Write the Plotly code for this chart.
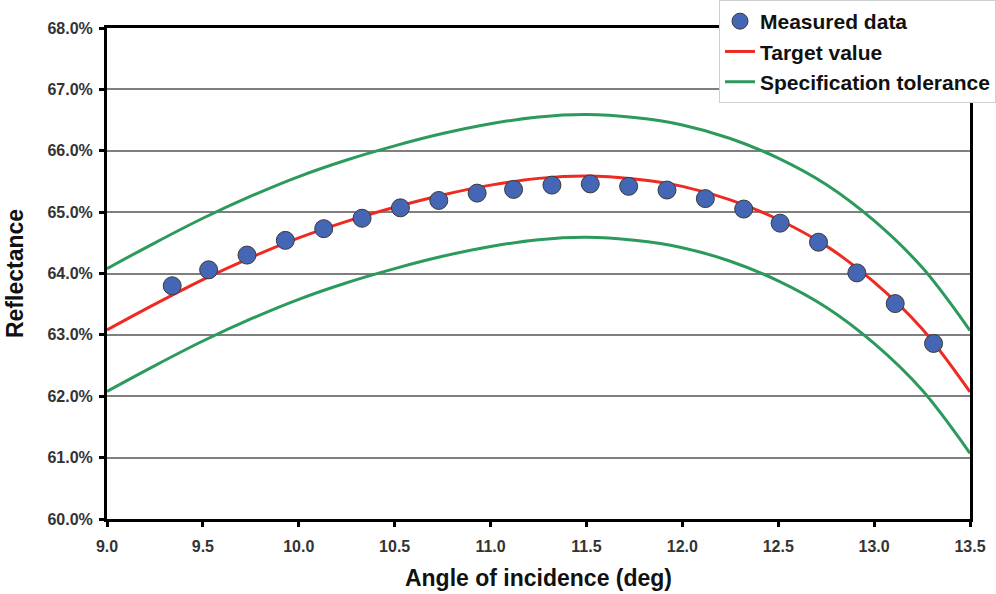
import plotly.graph_objects as go

# Measured data (angle in deg, reflectance in %)
meas_x = [9.34, 9.53, 9.73, 9.93, 10.13, 10.33, 10.53, 10.73, 10.93, 11.12, 11.32,
          11.52, 11.72, 11.92, 12.12, 12.32, 12.51, 12.71, 12.91, 13.11, 13.31]
meas_y = [63.80, 64.06, 64.30, 64.54, 64.73, 64.90, 65.07, 65.19, 65.31, 65.37, 65.44,
          65.46, 65.42, 65.36, 65.22, 65.05, 64.82, 64.51, 64.01, 63.51, 62.86]

# Target curve
curve_x = [9.00, 9.25, 9.50, 9.75, 10.00, 10.25, 10.50, 10.75, 11.00, 11.25,
           11.50, 11.75, 12.00, 12.25, 12.50, 12.75, 13.00, 13.25, 13.50]
target_y = [63.08, 63.50, 63.90, 64.26, 64.58, 64.85, 65.08, 65.28, 65.44, 65.55,
            65.59, 65.54, 65.42, 65.20, 64.88, 64.45, 63.86, 63.10, 62.07]
# Specification tolerance bands
upper_y = [64.08, 64.50, 64.90, 65.26, 65.58, 65.85, 66.08, 66.28, 66.44, 66.55,
           66.59, 66.54, 66.42, 66.20, 65.88, 65.45, 64.86, 64.10, 63.07]
lower_y = [62.08, 62.50, 62.90, 63.26, 63.58, 63.85, 64.08, 64.28, 64.44, 64.55,
           64.59, 64.54, 64.42, 64.20, 63.88, 63.45, 62.86, 62.10, 61.07]

y_ticks = [60, 61, 62, 63, 64, 65, 66, 67, 68]
y_tick_text = ["60.0%", "61.0%", "62.0%", "63.0%", "64.0%", "65.0%", "66.0%", "67.0%", "68.0%"]
x_ticks = [9.0, 9.5, 10.0, 10.5, 11.0, 11.5, 12.0, 12.5, 13.0, 13.5]
x_tick_text = ["9.0", "9.5", "10.0", "10.5", "11.0", "11.5", "12.0", "12.5", "13.0", "13.5"]

RED = "#EE2A22"
GREEN = "#2B9A5C"
BLUE = "#4565B5"
FONT = "Liberation Sans, Arial, sans-serif"

fig = go.Figure()
fig.add_trace(go.Scatter(x=curve_x, y=upper_y, mode="lines", name="Specification tolerance",
                         line=dict(color=GREEN, width=3, shape="spline", smoothing=1.0),
                         showlegend=False, legendgroup="c", legendrank=3))
fig.add_trace(go.Scatter(x=curve_x, y=lower_y, mode="lines", name="Specification tolerance",
                         line=dict(color=GREEN, width=3, shape="spline", smoothing=1.0),
                         showlegend=True, legendgroup="c", legendrank=3))
fig.add_trace(go.Scatter(x=curve_x, y=target_y, mode="lines", name="Target value",
                         line=dict(color=RED, width=3, shape="spline", smoothing=1.0),
                         legendgroup="b", legendrank=2))
fig.add_trace(go.Scatter(x=meas_x, y=meas_y, mode="markers", name="Measured data",
                         marker=dict(color=BLUE, size=18, line=dict(color="#3a3a3a", width=1)),
                         legendgroup="a", legendrank=1))

fig.update_layout(
    width=996, height=594,
    margin=dict(l=107, r=26, t=28, b=75, autoexpand=False),
    paper_bgcolor="white", plot_bgcolor="white",
    font=dict(family=FONT, color="#222222"),
    legend=dict(
        xref="container", yref="container",
        x=1.0, y=1.0, xanchor="right", yanchor="top",
        bgcolor="white", bordercolor="#cfcfcf", borderwidth=1,
        font=dict(family=FONT, size=21, color="#111111", weight="bold"),
        tracegroupgap=0, traceorder="normal",
    ),
    xaxis=dict(
        range=[9.0, 13.5], tickvals=x_ticks, ticktext=x_tick_text,
        showgrid=False, zeroline=False,
        showline=True, linecolor="black", linewidth=3, mirror=True,
        ticks="outside", ticklen=5, tickwidth=3, tickcolor="black",
        ticklabelstandoff=6,
        tickfont=dict(family=FONT, size=16, color="#333333", weight="bold"),
        title=dict(text="Angle of incidence (deg)", standoff=16,
                   font=dict(family=FONT, size=23, color="#111111", weight="bold")),
    ),
    yaxis=dict(
        range=[60, 68], tickvals=y_ticks, ticktext=y_tick_text,
        showgrid=True, gridcolor="#7f7f7f", gridwidth=1.5, zeroline=False,
        showline=True, linecolor="black", linewidth=3, mirror=True,
        ticks="outside", ticklen=5, tickwidth=3, tickcolor="black",
        ticklabelstandoff=3,
        tickfont=dict(family=FONT, size=16, color="#333333", weight="bold"),
        title=dict(text="Reflectance", standoff=18,
                   font=dict(family=FONT, size=23, color="#111111", weight="bold")),
    ),
)

fig.write_html("out.html")
